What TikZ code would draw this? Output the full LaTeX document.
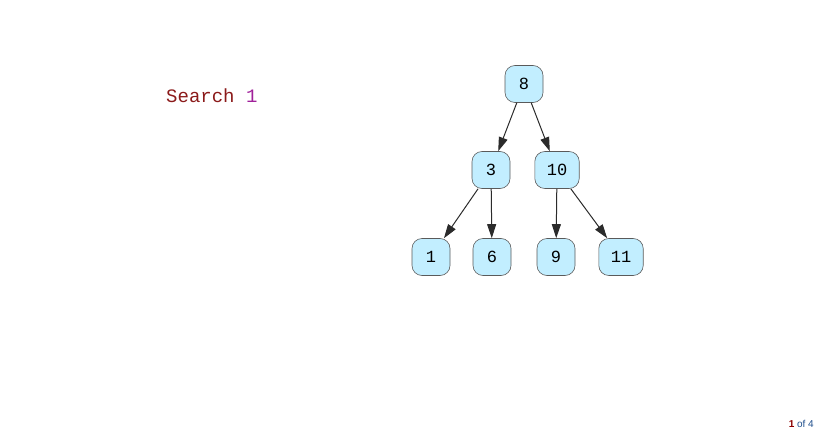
\documentclass[tikz,border=0pt]{standalone}
\usepackage{fontspec}
\setmainfont{Liberation Sans}
\setmonofont{Liberation Mono}
\usepackage{xcolor}
\usetikzlibrary{arrows.meta}
\definecolor{keyfill}{HTML}{C2EEFF}
\definecolor{keyline}{HTML}{5A5A5A}
\definecolor{arrowgrey}{HTML}{2B2B2B}
\definecolor{searchred}{HTML}{8B1A1A}
\definecolor{searchnum}{HTML}{A0209A}
\definecolor{pagered}{HTML}{8B0000}
\definecolor{pageblue}{HTML}{1F4E8C}
\begin{document}
\begin{tikzpicture}[
  x=1pt, y=-1pt,
  key/.style={draw=keyline, line width=0.6pt, fill=keyfill, rounded corners=10pt, minimum width=38pt, minimum height=37pt, inner xsep=12pt, inner ysep=0pt, font=\ttfamily\fontsize{17}{20}\selectfont},
  link/.style={draw=arrowgrey, line width=1pt, -{Stealth[length=14pt, width=9pt, inset=0pt]}}
]
\useasboundingbox (0,0) rectangle (818,433);
% caption
\node[anchor=west, inner sep=0pt, font=\ttfamily\fontsize{19}{22}\selectfont] (title) at (166,96) {\textcolor{searchred}{Search} \textcolor{searchnum}{1}};
% tree
\node[key] (k8) at (524,84) {8};
\node[key] (k3) at (491,170) {3};
\node[key] (k10) at (557,170) {10};
\node[key] (k1) at (431,257) {1};
\node[key] (k6) at (492,257) {6};
\node[key] (k9) at (556,257) {9};
\node[key] (k11) at (621,257) {11};
\draw[link] (k8)--(k3); \draw[link] (k8)--(k10);
\draw[link] (k3)--(k1); \draw[link] (k3)--(k6);
\draw[link] (k10)--(k9); \draw[link] (k10)--(k11);
% page counter
\node[anchor=east, inner sep=0pt, font=\fontsize{10}{12}\selectfont] (page) at (814,424) {\textcolor{pagered}{\textbf{1}} \textcolor{pageblue}{of 4}};
\end{tikzpicture}
\end{document}
